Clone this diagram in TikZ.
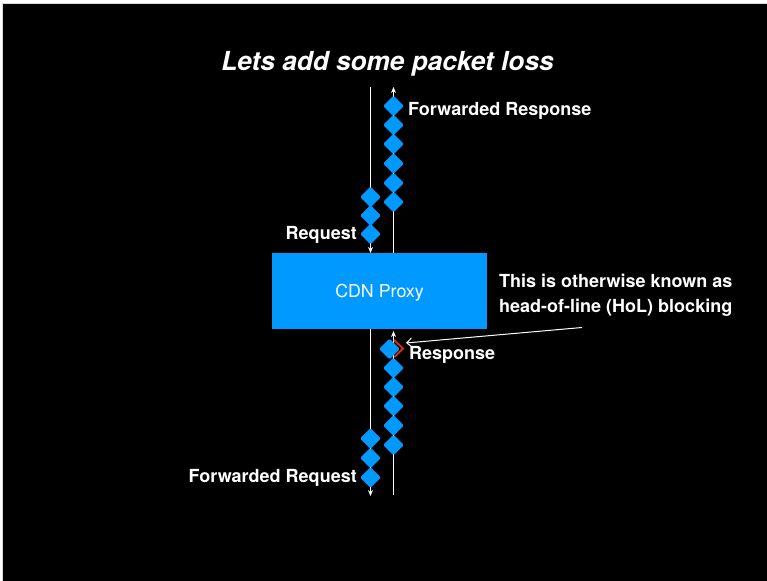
\documentclass[tikz,border=0pt]{standalone}
\usepackage{fontspec}
\setmainfont{TeX Gyre Heros}
\usetikzlibrary{shapes.geometric,arrows.meta,calc}

\definecolor{proxyblue}{RGB}{0,153,255}
\definecolor{hol}{RGB}{230,40,20}

\tikzset{
  wire/.style={draw=white, line width=1.1pt},
  flow/.style={wire, -{Stealth[length=6pt,width=5pt]}},
  pkt/.style={shape=diamond, fill=proxyblue, inner sep=0pt,
              minimum width=21pt, minimum height=21pt, rounded corners=1.5pt},
  proxy/.style={fill=proxyblue, text=white, inner sep=0pt, text depth=0pt,
                minimum width=215pt, minimum height=76pt,
                font=\fontsize{17.8}{20}\selectfont},
  lbl/.style={text=white, inner sep=0pt, font=\fontsize{18}{22}\selectfont\bfseries},
  heading/.style={text=white, inner sep=0pt, font=\fontsize{26.2}{30}\selectfont\bfseries\itshape},
}

\begin{document}
\begin{tikzpicture}[x=1pt,y=-1pt]
  \useasboundingbox (0,0) rectangle (767,580);
  \fill[white] (0,0) rectangle (767,580);
  \draw[black!15, fill=black, line width=1pt] (2.5,3.5) rectangle (770,583);

  % title
  \node[heading, anchor=base] (title) at (387.5,70.5) {Lets add some packet loss};

  % the proxy
  \node[proxy] (cdn) at (379.5,291) {CDN Proxy};

  % end points of the four streams
  \coordinate (reqTop)  at (370.5,87);
  \coordinate (reqIn)   at (370.5,253);
  \coordinate (fresTop) at (393.5,87);
  \coordinate (fresOut) at (393.5,253);
  \coordinate (freqOut) at (370.5,329);
  \coordinate (freqBot) at (370.5,496);
  \coordinate (resIn)   at (393.5,331);
  \coordinate (resBot)  at (393.5,495);

  % stream lines
  \draw[flow] (reqTop) -- (reqIn);
  \draw[flow] (fresOut) -- (fresTop);
  \draw[flow] (freqOut) -- (freqBot);
  \draw[flow] (resBot) -- (resIn);

  % request packets (client -> proxy)
  \node[pkt] (q1) at (370.5,197) {};
  \node[pkt] (q2) at (370.5,215.5) {};
  \node[pkt] (q3) at (370.5,234) {};

  % forwarded response packets (proxy -> client)
  \node[pkt] (fr1) at (393.5,106) {};
  \node[pkt] (fr2) at (393.5,125) {};
  \node[pkt] (fr3) at (393.5,144) {};
  \node[pkt] (fr4) at (393.5,163.5) {};
  \node[pkt] (fr5) at (393.5,183) {};
  \node[pkt] (fr6) at (393.5,202) {};

  % response packets (origin -> proxy); the first one is held back
  \node[pkt] (r1) at (389.5,349) {};
  \node[pkt] (r2) at (393.5,368) {};
  \node[pkt] (r3) at (393.5,387) {};
  \node[pkt] (r4) at (393.5,406) {};
  \node[pkt] (r5) at (393.5,425.5) {};
  \node[pkt] (r6) at (393.5,445) {};

  % forwarded request packets (proxy -> origin)
  \node[pkt] (fq1) at (370.5,438.5) {};
  \node[pkt] (fq2) at (370.5,458) {};
  \node[pkt] (fq3) at (370.5,477.5) {};

  % marker on the stalled packet
  \draw[hol, line width=1.8pt, line join=miter]
    ($(r1)+(4.5,-9)$) -- ($(r1)+(13.5,-0.5)$) -- ($(r1)+(5,8)$);

  % labels
  \node[lbl, anchor=base west] (lfres) at (408,116) {Forwarded Response};
  \node[lbl, anchor=base east] (lreq)  at (357,239) {Request};
  \node[lbl, anchor=base west] (lres)  at (409,359) {Response};
  \node[lbl, anchor=base east] (lfreq) at (357,482) {Forwarded Request};

  % note
  \node[lbl, anchor=base west] (note1) at (499,287) {This is otherwise known as};
  \node[lbl, anchor=base west] (note2) at (499,312) {head-of-line (HoL) blocking};
  \coordinate (noteTail) at (582,327.5);
  \coordinate (noteTip)  at ($(r1)+(16.5,-6)$);
  \draw[draw=white, line width=1pt, -{Straight Barb[length=5pt,width=9pt]}]
    (noteTail) -- (noteTip);
\end{tikzpicture}
\end{document}
